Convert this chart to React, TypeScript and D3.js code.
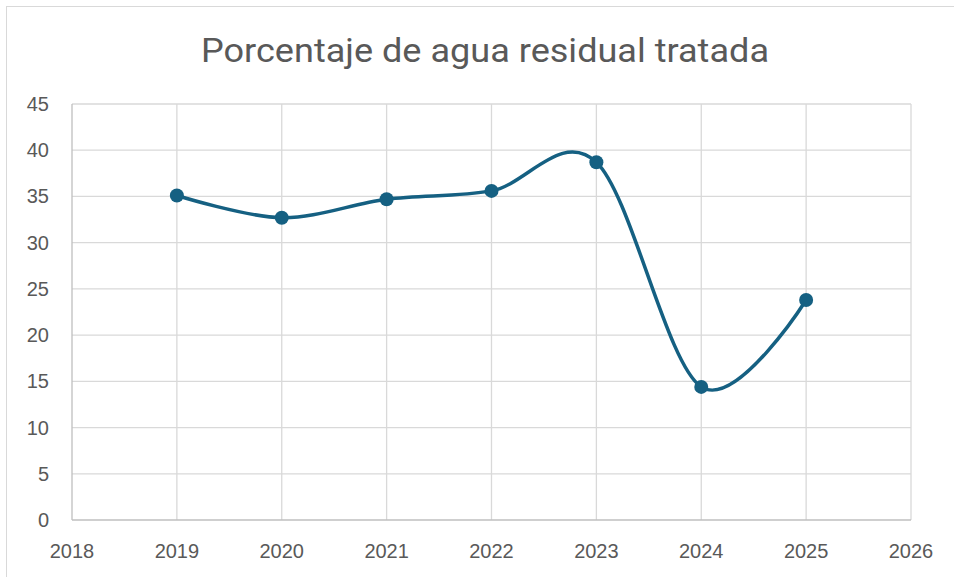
import React, { useEffect, useRef } from 'react'
import * as d3 from 'd3'

const years = [2019, 2020, 2021, 2022, 2023, 2024, 2025]
const values = [35.1, 32.7, 34.7, 35.6, 38.7, 14.4, 23.8]
const xTicks = [2018, 2019, 2020, 2021, 2022, 2023, 2024, 2025, 2026]
const yTicks = [0, 5, 10, 15, 20, 25, 30, 35, 40, 45]
const title = 'Porcentaje de agua residual tratada'

const App = () => {
  const ref = useRef<SVGSVGElement>(null)

  useEffect(() => {
    const width = 954
    const height = 577
    const left = 72
    const right = 911
    const top = 104
    const bottom = 520
    const lineColor = '#156082'
    const font = '"Liberation Sans", Arial, sans-serif'

    const svg = d3.select(ref.current)
    svg.selectAll('*').remove()

    svg
      .append('rect')
      .attr('x', 0)
      .attr('y', 0)
      .attr('width', width)
      .attr('height', height)
      .attr('fill', '#fff')

    // chart border
    svg
      .append('rect')
      .attr('x', 6.5)
      .attr('y', 6.5)
      .attr('width', width + 10)
      .attr('height', height + 10)
      .attr('fill', 'none')
      .attr('stroke', '#d9d9d9')

    const x = d3.scaleLinear().domain([2018, 2026]).range([left, right])
    const y = d3.scaleLinear().domain([0, 45]).range([bottom, top])

    // gridlines
    const grid = svg.append('g')
    grid
      .selectAll('line.h')
      .data(yTicks.filter((d) => d > 0))
      .enter()
      .append('line')
      .attr('x1', left)
      .attr('x2', right)
      .attr('y1', (d) => y(d))
      .attr('y2', (d) => y(d))
      .attr('stroke', '#d9d9d9')
      .attr('stroke-width', 1.3)
    grid
      .selectAll('line.v')
      .data(xTicks.filter((d) => d > 2018))
      .enter()
      .append('line')
      .attr('x1', (d) => x(d))
      .attr('x2', (d) => x(d))
      .attr('y1', top)
      .attr('y2', bottom)
      .attr('stroke', '#d9d9d9')
      .attr('stroke-width', 1.3)

    // axis lines
    svg
      .append('line')
      .attr('x1', left)
      .attr('x2', left)
      .attr('y1', top)
      .attr('y2', bottom)
      .attr('stroke', '#bfbfbf')
      .attr('stroke-width', 1.3)
    svg
      .append('line')
      .attr('x1', left)
      .attr('x2', right)
      .attr('y1', bottom)
      .attr('y2', bottom)
      .attr('stroke', '#bfbfbf')
      .attr('stroke-width', 1.3)

    // tick labels
    svg
      .append('g')
      .selectAll('text')
      .data(yTicks)
      .enter()
      .append('text')
      .attr('x', 49)
      .attr('y', (d) => y(d) + 7)
      .attr('text-anchor', 'end')
      .attr('font-family', font)
      .attr('font-size', 20)
      .attr('fill', '#595959')
      .text((d) => d)

    svg
      .append('g')
      .selectAll('text')
      .data(xTicks)
      .enter()
      .append('text')
      .attr('x', (d) => x(d))
      .attr('y', 558)
      .attr('text-anchor', 'middle')
      .attr('font-family', font)
      .attr('font-size', 20)
      .attr('fill', '#595959')
      .text((d) => d)

    // title
    svg
      .append('text')
      .attr('x', 201)
      .attr('y', 62)
      .attr('font-family', '"Roboto", sans-serif')
      .attr('font-size', 33)
      .attr('fill', '#595959')
      .attr('textLength', 568)
      .attr('lengthAdjust', 'spacingAndGlyphs')
      .text(title)

    const pts: [number, number][] = years.map((d, i) => [d, values[i]])

    const line = d3
      .line<[number, number]>()
      .x((d) => x(d[0]))
      .y((d) => y(d[1]))
      .curve(d3.curveCardinal.tension(0))

    svg
      .append('path')
      .datum(pts)
      .attr('d', line)
      .attr('fill', 'none')
      .attr('stroke', lineColor)
      .attr('stroke-width', 3.5)

    svg
      .append('g')
      .selectAll('circle')
      .data(pts)
      .enter()
      .append('circle')
      .attr('cx', (d) => x(d[0]))
      .attr('cy', (d) => y(d[1]))
      .attr('r', 7)
      .attr('fill', lineColor)
  }, [])

  return (
    <svg
      ref={ref}
      width={954}
      height={577}
      style={{ position: 'absolute', left: 0, top: 0 }}
    />
  )
}

export default App
